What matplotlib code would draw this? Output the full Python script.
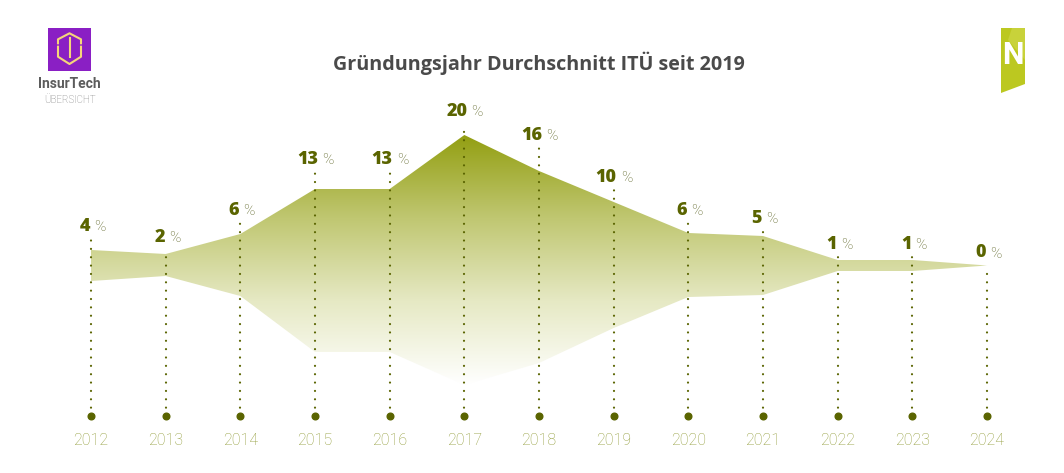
import matplotlib
matplotlib.use("Agg")
import matplotlib.pyplot as plt
import numpy as np
from matplotlib.colors import LinearSegmentedColormap
from matplotlib.patches import Polygon, Rectangle

years = [2012, 2013, 2014, 2015, 2016, 2017, 2018, 2019, 2020, 2021, 2022, 2023, 2024]
# printed percentages
shares = [4, 2, 6, 13, 13, 20, 16, 10, 6, 5, 1, 1, 0]
# band edges, the shape is not quite symmetric
upper = [1.24, 0.92, 2.52, 6.12, 6.12, 10.44, 7.56, 5.08, 2.6, 2.36, 0.44, 0.44, 0.0]
lower = [-1.24, -0.84, -2.44, -6.92, -6.92, -9.56, -7.8, -5.0, -2.52, -2.36, -0.44, -0.44, 0.0]
# how far each label sits above the band, in pixels
label_lift = [24, 17, 24, 30, 30, 24, 36, 25, 23, 18, 16, 16, 13]

DARK = "#5a6400"
PX_X = 74.67
PX_Y = 12.5
CENTER = 265.5
BASE = (CENTER - 416) / PX_Y
XLIM = (2012 - 91 / PX_X, 2012 + (1064 - 91) / PX_X)
YLIM = ((CENTER - 473) / PX_Y, CENTER / PX_Y)
THIN = ["Roboto", "DejaVu Sans"]

plt.rcParams["font.family"] = ["Open Sans", "DejaVu Sans"]

fig = plt.figure(figsize=(10.64, 4.73), dpi=100)
ax = fig.add_axes([0, 0, 1, 1])
ax.axis("off")

# band with vertical fade, clipped to the outline
cmap = LinearSegmentedColormap.from_list("fade", ["#ffffff", "#e6e9c4", "#c0c772", "#939f12"])
grad = np.linspace(1, 0, 256).reshape(-1, 1)
img = ax.imshow(grad, cmap=cmap, aspect="auto", vmin=0, vmax=1,
                extent=[years[0], years[-1], min(lower), max(upper)], zorder=1)
outline = Polygon(list(zip(years, upper)) + list(zip(years[::-1], lower[::-1])),
                  closed=True, transform=ax.transData, fc="none", ec="none")
ax.add_patch(outline)
img.set_clip_path(outline)
ax.set_xlim(*XLIM)
ax.set_ylim(*YLIM)

for year, share, t, lift in zip(years, shares, upper, label_lift):
    line_top = t + (lift - 13) / PX_Y
    ax.plot([year, year], [BASE, line_top], color=DARK, lw=1.6,
            linestyle=(0, (0.01, 3.75)), dash_capstyle="round", zorder=2)
    ax.plot(year, BASE, "o", color=DARK, ms=4.8, zorder=3)
    right = 3 if share >= 10 else -1
    ax.annotate(str(share), (year, t), xytext=(right, lift), textcoords="offset pixels",
                ha="right", va="center", fontsize=13, fontweight="heavy", color=DARK)
    ax.annotate("%", (year, t), xytext=(right + 4, lift - 1), textcoords="offset pixels",
                ha="left", va="center", fontsize=11, color="#5f6628",
                family=THIN, fontweight="light")
    ax.annotate(str(year), (year, BASE), xytext=(0, -24), textcoords="offset pixels",
                ha="center", va="center", fontsize=11.5, color="#939e3c",
                family=THIN, fontweight="light")

# title and logos in pixel coordinates
ov = fig.add_axes([0, 0, 1, 1], facecolor="none")
ov.set_xlim(0, 1064)
ov.set_ylim(473, 0)
ov.axis("off")

ov.text(539, 63, "Gründungsjahr Durchschnitt ITÜ seit 2019", ha="center", va="center",
        fontsize=14.2, fontweight="bold", color="#4a4a4a")

ov.add_patch(Rectangle((48, 28), 43, 43, fc="#8a1fc4", ec="none"))
gold = "#f5d67a"
ov.plot([58, 58, 69.5, 81, 81], [43.3, 39.3, 33.3, 39.3, 43.3], color=gold, lw=1.5)
ov.plot([58, 58, 69.5, 81, 81], [46.7, 56.7, 64, 56.7, 46.7], color=gold, lw=1.5)
ov.plot([69.5, 69.5], [38, 57], color=gold, lw=1.5)
ov.text(69.5, 84.5, "InsurTech", ha="center", va="center", fontsize=10, fontweight="bold",
        color="#5c5c5c", family=["Roboto", "DejaVu Sans"])
ov.text(69.5, 100, "ÜBERSICHT", ha="center", va="center", fontsize=7, color="#777777",
        family=THIN, fontweight="light")

ov.add_patch(Polygon([(1001, 28), (1025, 28), (1025, 84), (1001, 93)], fc="#bcc820", ec="none"))
ov.add_patch(Polygon([(1012, 28), (1025, 28), (1025, 60), (1008, 40)], fc="#c8d23a", ec="none"))
ov.text(1013, 55.5, "N", ha="center", va="center", fontsize=22, fontweight="bold", color="white",
        family=["Roboto", "DejaVu Sans"])

fig.savefig("out.png", dpi=100)
